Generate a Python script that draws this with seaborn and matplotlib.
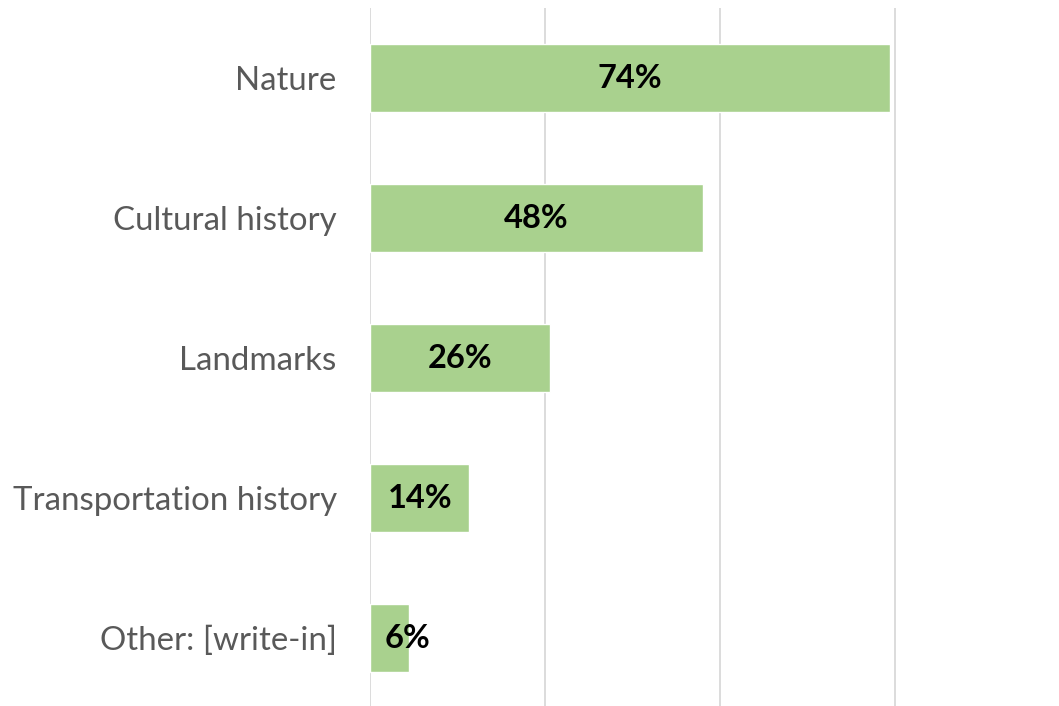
import matplotlib
matplotlib.use("Agg")
import matplotlib.pyplot as plt
import seaborn as sns
import pandas as pd

# Datos
categories = ["Nature", "Cultural history", "Landmarks",
              "Transportation history", "Other: [write-in]"]
values = [0.742, 0.475, 0.257, 0.142, 0.055]
value_labels = ["74%", "48%", "26%", "14%", "6%"]

BAR_COLOR = "#A9D18E"
GRID_COLOR = "#D9D9D9"

sns.set_style("white")
plt.rcParams["font.family"] = ["Lato", "DejaVu Sans"]

df = pd.DataFrame({"category": categories, "value": values})

fig = plt.figure(figsize=(10.59, 7.06), dpi=100)
ax = fig.add_axes([370 / 1059, -2 / 706, 1 - 370 / 1059, 700 / 706])

sns.barplot(data=df, x="value", y="category", orient="h", color=BAR_COLOR,
            saturation=1, width=0.49, ax=ax)

ax.set_xlim(0, 0.984)
ax.set_xticks([0, 0.25, 0.5, 0.75])
ax.xaxis.grid(True, color=GRID_COLOR, linewidth=1.3)
ax.set_axisbelow(True)
ax.set_xticklabels([])
ax.tick_params(axis="x", length=0)
ax.tick_params(axis="y", length=0, pad=24, labelsize=23.8, labelcolor="#595959")
ax.set_xlabel("")
ax.set_ylabel("")
for s in ax.spines.values():
    s.set_visible(False)

# Etiquetas de datos centradas en la barra
for i, (v, lab) in enumerate(zip(values, value_labels)):
    ax.text(max(v / 2, 0.054), i, lab, ha="center", va="center",
            fontsize=23.5, fontweight="bold", color="black")

fig.savefig("out.png", dpi=100)
plt.close(fig)
